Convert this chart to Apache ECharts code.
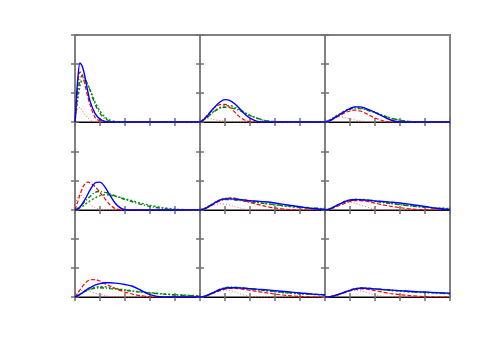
<!DOCTYPE html>
<html>
<head>
<meta charset="utf-8">
<script src="https://cdn.jsdelivr.net/npm/echarts@6/dist/echarts.min.js"></script>
<style>
	html, body { margin: 0; padding: 0; background: #fff; }
	#main { width: 500px; height: 350px; }
</style>
</head>
<body>
<div id="main"></div>
<script>
// shared x positions for every curve
var xs = [0, 0.1, 0.2, 0.3, 0.4, 0.5, 0.6, 0.8, 1.0, 1.2, 1.4, 1.6, 1.8, 2.0, 2.3, 2.6, 3.0, 3.5, 4.0, 4.5, 5.0];

// panel 1 (top left)
var p1Blue   = [0, 1.35, 2.04, 1.9, 1.55, 1.1, 0.72, 0.3, 0.1, 0.02, 0, 0, 0, 0, 0, 0, 0, 0, 0, 0, 0];
var p1Red    = [0, 1.2, 1.73, 1.6, 1.28, 0.9, 0.6, 0.16, 0.03, 0, 0, 0, 0, 0, 0, 0, 0, 0, 0, 0, 0];
var p1RedDot = [0, 0.45, 0.5, 0.38, 0.25, 0.15, 0.08, 0.01, 0, 0, 0, 0, 0, 0, 0, 0, 0, 0, 0, 0, 0];
var p1Green  = [0, 0.9, 1.45, 1.62, 1.5, 1.3, 1.1, 0.62, 0.3, 0.11, 0.03, 0, 0, 0, 0, 0, 0, 0, 0, 0, 0];
var p1GreenDot = [0, 0.7, 1.25, 1.45, 1.42, 1.3, 1.12, 0.7, 0.38, 0.17, 0.06, 0.02, 0, 0, 0, 0, 0, 0, 0, 0, 0];

// panel 2
var p2Blue   = [0, 0.05, 0.13, 0.22, 0.33, 0.43, 0.53, 0.69, 0.77, 0.74, 0.62, 0.45, 0.27, 0.13, 0.02, 0, 0, 0, 0, 0, 0];
var p2Red    = [0, 0.06, 0.14, 0.24, 0.34, 0.43, 0.51, 0.6, 0.61, 0.5, 0.33, 0.17, 0.06, 0.01, 0, 0, 0, 0, 0, 0, 0];
var p2RedDot = [0, 0.1, 0.13, 0.12, 0.11, 0.1, 0.08, 0.05, 0.03, 0.01, 0, 0, 0, 0, 0, 0, 0, 0, 0, 0, 0];
var p2Green  = [0, 0.04, 0.1, 0.17, 0.25, 0.32, 0.38, 0.47, 0.51, 0.5, 0.45, 0.38, 0.3, 0.22, 0.13, 0.05, 0.01, 0, 0, 0, 0];
var p2GreenDot = [0, 0.04, 0.1, 0.17, 0.25, 0.33, 0.4, 0.5, 0.56, 0.56, 0.5, 0.42, 0.32, 0.23, 0.12, 0.05, 0.01, 0, 0, 0, 0];

// panel 3
var p3Blue   = [0, 0.02, 0.05, 0.1, 0.15, 0.2, 0.26, 0.37, 0.46, 0.52, 0.52, 0.48, 0.41, 0.33, 0.2, 0.08, 0, 0, 0, 0, 0];
var p3Red    = [0, 0.02, 0.05, 0.09, 0.14, 0.18, 0.23, 0.32, 0.38, 0.41, 0.38, 0.31, 0.22, 0.14, 0.05, 0, 0, 0, 0, 0, 0];
var p3RedDot = [0, 0.04, 0.09, 0.13, 0.16, 0.18, 0.18, 0.15, 0.11, 0.07, 0.04, 0.02, 0, 0, 0, 0, 0, 0, 0, 0, 0];
var p3Green  = [0, 0.03, 0.07, 0.12, 0.17, 0.22, 0.27, 0.36, 0.44, 0.47, 0.46, 0.43, 0.38, 0.32, 0.23, 0.14, 0.06, 0.01, 0, 0, 0];
var p3GreenDot = [0, 0.04, 0.08, 0.13, 0.18, 0.24, 0.29, 0.39, 0.47, 0.5, 0.49, 0.45, 0.39, 0.33, 0.23, 0.14, 0.06, 0.01, 0, 0, 0];

// panel 4
var p4Blue   = [0, 0.03, 0.1, 0.22, 0.36, 0.52, 0.68, 0.92, 0.95, 0.78, 0.5, 0.24, 0.08, 0.01, 0, 0, 0, 0, 0, 0, 0];
var p4Red    = [0, 0.25, 0.52, 0.75, 0.9, 0.95, 0.93, 0.8, 0.6, 0.38, 0.18, 0.05, 0.01, 0, 0, 0, 0, 0, 0, 0, 0];
var p4RedDot = [0, 0.45, 0.52, 0.46, 0.37, 0.28, 0.2, 0.08, 0.02, 0, 0, 0, 0, 0, 0, 0, 0, 0, 0, 0, 0];
var p4Green  = [0, 0.05, 0.12, 0.2, 0.29, 0.38, 0.46, 0.6, 0.63, 0.6, 0.55, 0.48, 0.42, 0.36, 0.28, 0.2, 0.12, 0.05, 0.01, 0, 0];
var p4GreenDot = [0, 0.03, 0.08, 0.13, 0.19, 0.25, 0.31, 0.41, 0.49, 0.52, 0.51, 0.47, 0.43, 0.38, 0.31, 0.24, 0.16, 0.08, 0.03, 0.01, 0];

// panel 5
var p5Blue   = [0, 0.02, 0.05, 0.09, 0.14, 0.19, 0.25, 0.34, 0.38, 0.38, 0.37, 0.35, 0.34, 0.32, 0.3, 0.28, 0.24, 0.17, 0.11, 0.05, 0.01];
var p5Red    = [0, 0.02, 0.05, 0.09, 0.13, 0.18, 0.23, 0.31, 0.38, 0.41, 0.4, 0.36, 0.31, 0.26, 0.19, 0.13, 0.07, 0.02, 0, 0, 0];
var p5RedDot = [0, 0.02, 0.05, 0.08, 0.12, 0.15, 0.18, 0.21, 0.2, 0.16, 0.11, 0.07, 0.03, 0.01, 0, 0, 0, 0, 0, 0, 0];
var p5Green  = [0, 0.03, 0.06, 0.1, 0.15, 0.2, 0.25, 0.32, 0.36, 0.36, 0.34, 0.32, 0.3, 0.28, 0.25, 0.22, 0.18, 0.14, 0.1, 0.07, 0.05];
var p5GreenDot = [0, 0.03, 0.07, 0.11, 0.16, 0.21, 0.26, 0.34, 0.39, 0.4, 0.39, 0.36, 0.33, 0.3, 0.26, 0.22, 0.17, 0.12, 0.08, 0.05, 0.03];

// panel 6
var p6Blue   = [0, 0.01, 0.04, 0.08, 0.12, 0.17, 0.21, 0.29, 0.34, 0.36, 0.35, 0.34, 0.33, 0.31, 0.29, 0.27, 0.24, 0.18, 0.12, 0.05, 0.01];
var p6Red    = [0, 0.01, 0.03, 0.06, 0.09, 0.13, 0.16, 0.23, 0.29, 0.32, 0.32, 0.3, 0.27, 0.23, 0.18, 0.13, 0.08, 0.03, 0.01, 0, 0];
var p6RedDot = [0, 0.02, 0.05, 0.09, 0.13, 0.17, 0.2, 0.25, 0.26, 0.23, 0.18, 0.12, 0.07, 0.03, 0, 0, 0, 0, 0, 0, 0];
var p6Green  = [0, 0.02, 0.05, 0.08, 0.12, 0.16, 0.2, 0.27, 0.32, 0.34, 0.34, 0.33, 0.31, 0.29, 0.26, 0.22, 0.18, 0.13, 0.09, 0.06, 0.04];
var p6GreenDot = [0, 0.02, 0.05, 0.09, 0.13, 0.17, 0.21, 0.29, 0.34, 0.36, 0.36, 0.35, 0.33, 0.31, 0.27, 0.23, 0.19, 0.14, 0.1, 0.07, 0.05];

// panel 7
var p7Blue   = [0, 0.04, 0.09, 0.15, 0.21, 0.27, 0.32, 0.41, 0.46, 0.49, 0.49, 0.48, 0.46, 0.43, 0.37, 0.25, 0.08, 0, 0, 0, 0];
var p7Red    = [0, 0.12, 0.25, 0.37, 0.47, 0.55, 0.59, 0.6, 0.55, 0.46, 0.38, 0.3, 0.23, 0.17, 0.1, 0.05, 0.01, 0, 0, 0, 0];
var p7RedDot = [0, 0.12, 0.2, 0.24, 0.24, 0.22, 0.19, 0.14, 0.09, 0.05, 0.02, 0.01, 0, 0, 0, 0, 0, 0, 0, 0, 0];
var p7Green  = [0, 0.04, 0.09, 0.14, 0.19, 0.23, 0.26, 0.3, 0.32, 0.31, 0.29, 0.27, 0.25, 0.23, 0.2, 0.17, 0.14, 0.1, 0.07, 0.05, 0.03];
var p7GreenDot = [0, 0.04, 0.09, 0.14, 0.19, 0.24, 0.28, 0.33, 0.36, 0.35, 0.33, 0.3, 0.27, 0.25, 0.21, 0.18, 0.15, 0.11, 0.08, 0.06, 0.04];

// panel 8
var p8Blue   = [0, 0.01, 0.03, 0.06, 0.1, 0.14, 0.18, 0.25, 0.3, 0.32, 0.32, 0.31, 0.3, 0.29, 0.27, 0.25, 0.22, 0.18, 0.14, 0.1, 0.07];
var p8Red    = [0, 0.01, 0.03, 0.06, 0.09, 0.12, 0.15, 0.22, 0.27, 0.3, 0.3, 0.28, 0.26, 0.23, 0.19, 0.15, 0.1, 0.05, 0.02, 0, 0];
var p8RedDot = [0, 0.01, 0.03, 0.06, 0.09, 0.13, 0.16, 0.22, 0.24, 0.22, 0.17, 0.11, 0.06, 0.02, 0, 0, 0, 0, 0, 0, 0];
var p8Green  = [0, 0.01, 0.03, 0.06, 0.1, 0.14, 0.19, 0.27, 0.32, 0.34, 0.33, 0.32, 0.3, 0.28, 0.25, 0.22, 0.19, 0.15, 0.12, 0.1, 0.08];
var p8GreenDot = [0, 0.01, 0.03, 0.06, 0.1, 0.14, 0.18, 0.26, 0.31, 0.33, 0.33, 0.32, 0.3, 0.28, 0.25, 0.22, 0.18, 0.14, 0.11, 0.09, 0.07];

// panel 9 (bottom right)
var p9Blue   = [0, 0, 0.01, 0.03, 0.05, 0.08, 0.11, 0.17, 0.23, 0.28, 0.3, 0.3, 0.29, 0.28, 0.26, 0.24, 0.22, 0.19, 0.17, 0.15, 0.13];
var p9Red    = [0, 0, 0.01, 0.03, 0.05, 0.07, 0.1, 0.15, 0.21, 0.25, 0.28, 0.28, 0.25, 0.22, 0.17, 0.12, 0.08, 0.04, 0.01, 0, 0];
var p9RedDot = [0, 0, 0.01, 0.03, 0.06, 0.09, 0.12, 0.18, 0.23, 0.24, 0.21, 0.17, 0.12, 0.08, 0.03, 0.01, 0, 0, 0, 0, 0];
var p9Green  = [0, 0, 0.01, 0.03, 0.05, 0.08, 0.11, 0.18, 0.24, 0.29, 0.31, 0.31, 0.3, 0.28, 0.26, 0.24, 0.21, 0.18, 0.16, 0.14, 0.12];
var p9GreenDot = [0, 0, 0.01, 0.03, 0.05, 0.07, 0.1, 0.17, 0.23, 0.28, 0.3, 0.3, 0.29, 0.27, 0.25, 0.23, 0.2, 0.17, 0.15, 0.13, 0.11];

var panels = [
	[p1Blue, p1Red, p1RedDot, p1Green, p1GreenDot],
	[p2Blue, p2Red, p2RedDot, p2Green, p2GreenDot],
	[p3Blue, p3Red, p3RedDot, p3Green, p3GreenDot],
	[p4Blue, p4Red, p4RedDot, p4Green, p4GreenDot],
	[p5Blue, p5Red, p5RedDot, p5Green, p5GreenDot],
	[p6Blue, p6Red, p6RedDot, p6Green, p6GreenDot],
	[p7Blue, p7Red, p7RedDot, p7Green, p7GreenDot],
	[p8Blue, p8Red, p8RedDot, p8Green, p8GreenDot],
	[p9Blue, p9Red, p9RedDot, p9Green, p9GreenDot]
];

var lineStyles = [
	{color: '#0000ff', width: 1.4, type: 'solid'},
	{color: '#ff0000', width: 1.2, type: [4, 2]},
	{color: '#ff6666', width: 1, type: [1, 2]},
	{color: '#008000', width: 1.4, type: [4, 2, 1, 2]},
	{color: '#1f8a1f', width: 1.5, type: [2, 2]}
];

var colLeft = [75, 200, 325];
var rowTop = [35, 122, 210];
var rowHeight = [87, 88, 87];

function pairs(ys) {
	return xs.map(function (x, i) { return [x, ys[i]]; });
}

var grids = [], xAxes = [], yAxes = [], series = [];
var tickStyle = {show: true, inside: true, length: 4, lineStyle: {color: '#707070', width: 1.5}};

for (var i = 0; i < 9; i++) {
	var r = Math.floor(i / 3), c = i % 3;
	grids.push({left: colLeft[c], top: rowTop[r], width: 125, height: rowHeight[r],
		show: true, borderColor: '#808080', borderWidth: 2, backgroundColor: 'transparent'});
	// bottom axis carries the black zero line, top axis only ticks
	xAxes.push({type: 'value', gridIndex: i, min: 0, max: 5, interval: 1, position: 'bottom',
		axisLine: {show: true, onZero: false, lineStyle: {color: '#000', width: 1.2}},
		axisTick: tickStyle, axisLabel: {show: false}, splitLine: {show: false}});
	xAxes.push({type: 'value', gridIndex: i, min: 0, max: 5, interval: 1, position: 'top',
		axisLine: {show: false}, axisTick: tickStyle, axisLabel: {show: false}, splitLine: {show: false}});
	yAxes.push({type: 'value', gridIndex: i, min: 0, max: 3, interval: 1, position: 'left',
		axisLine: {show: false}, axisTick: tickStyle, axisLabel: {show: false}, splitLine: {show: false}});
	yAxes.push({type: 'value', gridIndex: i, min: 0, max: 3, interval: 1, position: 'right',
		axisLine: {show: false}, axisTick: tickStyle, axisLabel: {show: false}, splitLine: {show: false}});

	panels[i].forEach(function (ys, k) {
		series.push({
			type: 'line', xAxisIndex: i * 2, yAxisIndex: i * 2,
			data: pairs(ys), smooth: 0.3, showSymbol: false, silent: true,
			lineStyle: lineStyles[k], z: 5 - k
		});
	});
}

var chart = echarts.init(document.getElementById('main'), null, {renderer: 'canvas'});
chart.setOption({
	animation: false,
	backgroundColor: '#fff',
	grid: grids,
	xAxis: xAxes,
	yAxis: yAxes,
	series: series
});
</script>
</body>
</html>
